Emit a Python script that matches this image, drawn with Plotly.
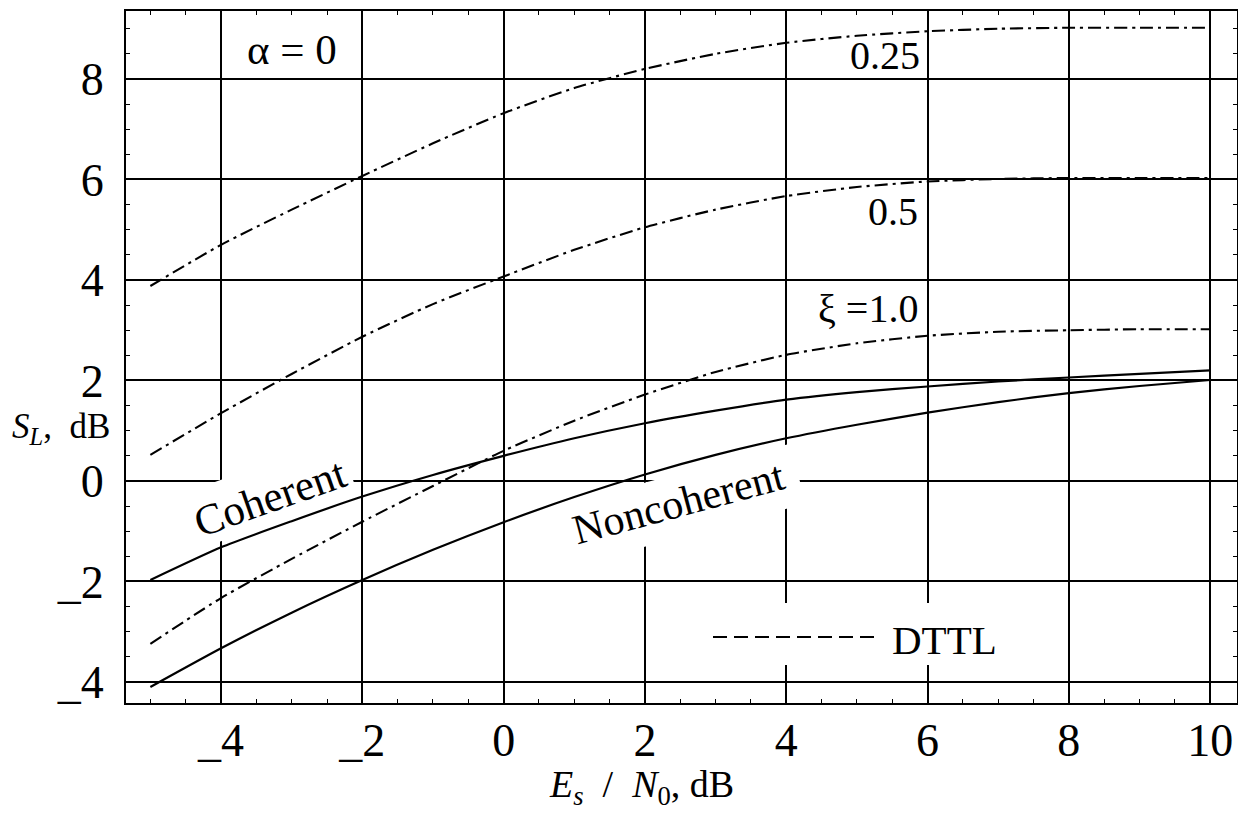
import math
import plotly.graph_objects as go

# ---------------- data ----------------
es_n0 = [-5, -4, -3, -2, -1, 0, 1, 2, 3, 4, 5, 6, 7, 8, 9, 10]
dttl_xi_025 = [3.88, 4.70, 5.40, 6.07, 6.72, 7.32, 7.82, 8.20, 8.50, 8.72, 8.86, 8.95, 9.00, 9.02, 9.02, 9.02]
dttl_xi_05 = [0.52, 1.35, 2.13, 2.87, 3.52, 4.07, 4.60, 5.05, 5.40, 5.67, 5.85, 5.96, 6.01, 6.03, 6.03, 6.03]
dttl_xi_10 = [-3.24, -2.33, -1.55, -0.81, -0.10, 0.60, 1.20, 1.72, 2.17, 2.51, 2.74, 2.89, 2.97, 3.00, 3.02, 3.02]
coherent = [-1.97, -1.32, -0.80, -0.31, 0.12, 0.50, 0.85, 1.15, 1.40, 1.62, 1.77, 1.88, 1.98, 2.06, 2.13, 2.20]
noncoherent = [-4.10, -3.33, -2.62, -1.97, -1.37, -0.82, -0.32, 0.13, 0.52, 0.85, 1.12, 1.36, 1.57, 1.75, 1.89, 2.01]

x_tickvals = [-4, -2, 0, 2, 4, 6, 8, 10]
x_ticktext = ["_4", "_2", "0", "2", "4", "6", "8", "10"]
y_tickvals = [-4, -2, 0, 2, 4, 6, 8]
y_ticktext = ["_4", "_2", "0", "2", "4", "6", "8"]

# ---------------- layout geometry ----------------
BODY = 8                      # default page margin around the plot div
W, H = 1246 - 2 * BODY, 820 - 2 * BODY
ML, MT = 126, 11              # plot-area left/top in page pixels
PW, PH = 1111, 692            # plot-area size
XR = [-5.345, 10.38]
YR = [-4.418, 9.353]

FONT = "Liberation Serif, Times New Roman, serif"
DASHDOT = "13px,5px,3px,5px"


def px2x(px):
    return XR[0] + (px - ML) / PW * (XR[1] - XR[0])


def py2y(py):
    return YR[1] - (py - MT) / PH * (YR[1] - YR[0])


def rot_rect_path(cx, cy, hw, hh, ang_deg):
    t = math.radians(ang_deg)
    u = (math.cos(t), -math.sin(t))
    v = (math.sin(t), math.cos(t))
    pts = []
    for sa, sb in [(-1, -1), (1, -1), (1, 1), (-1, 1)]:
        px = cx + sa * hw * u[0] + sb * hh * v[0]
        py = cy + sa * hw * u[1] + sb * hh * v[1]
        pts.append((px2x(px), py2y(py)))
    return "M " + " L ".join(f"{a:.4f},{b:.4f}" for a, b in pts) + " Z"


fig = go.Figure()

line_solid = dict(color="black", width=2.2, shape="spline", smoothing=0.6)
line_dd = dict(color="black", width=2.1, dash=DASHDOT, shape="spline", smoothing=0.6)

fig.add_trace(go.Scatter(x=es_n0, y=dttl_xi_025, mode="lines", line=line_dd, name="ξ=0.25"))
fig.add_trace(go.Scatter(x=es_n0, y=dttl_xi_05, mode="lines", line=line_dd, name="ξ=0.5"))
fig.add_trace(go.Scatter(x=es_n0, y=dttl_xi_10, mode="lines", line=line_dd, name="ξ=1.0"))
fig.add_trace(go.Scatter(x=es_n0, y=coherent, mode="lines", line=line_solid, name="Coherent"))
fig.add_trace(go.Scatter(x=es_n0, y=noncoherent, mode="lines", line=line_solid, name="Noncoherent"))

shapes = [
    # white masks hiding gridlines behind labels
    dict(type="path", path=rot_rect_path(265, 495, 88, 29, 19.4), xref="x", yref="y",
         fillcolor="white", line=dict(width=0), layer="between"),
    dict(type="path", path=rot_rect_path(679, 505.5, 123, 31, 15), xref="x", yref="y",
         fillcolor="white", line=dict(width=0), layer="between"),
    dict(type="rect", x0=px2x(700), x1=px2x(1012), y0=py2y(665), y1=py2y(603), xref="x", yref="y",
         fillcolor="white", line=dict(width=0), layer="between"),
    # DTTL legend sample
    dict(type="line", x0=px2x(713), x1=px2x(876), y0=py2y(637), y1=py2y(637), xref="x", yref="y",
         line=dict(color="black", width=2, dash="14px,7px"), layer="above"),
]

ann_font = dict(family=FONT, size=40, color="black")
annotations = [
    dict(x=px2x(292), y=py2y(49), text="α = 0", showarrow=False, font=dict(family=FONT, size=43, color="black")),
    dict(x=px2x(922), y=py2y(55), text="0.25", showarrow=False, xanchor="right", font=ann_font),
    dict(x=px2x(920), y=py2y(211), text="0.5", showarrow=False, xanchor="right", font=ann_font),
    dict(x=px2x(920), y=py2y(308), text="ξ =1.0", showarrow=False, xanchor="right", font=ann_font),
    dict(x=px2x(270), y=py2y(497), text="Coherent", showarrow=False, textangle=-19.4,
         font=dict(family=FONT, size=43, color="black")),
    dict(x=px2x(678), y=py2y(503), text="Noncoherent", showarrow=False, textangle=-15,
         font=dict(family=FONT, size=42, color="black")),
    dict(x=px2x(890), y=py2y(640), text="DTTL", showarrow=False, xanchor="left",
         font=dict(family=FONT, size=41, color="black")),
    # axis titles
    dict(x=(10 - ML) / PW, xref="paper", y=py2y(428), yref="y", xanchor="left",
         text="<i>S</i><sub><i>L</i></sub>,  dB", showarrow=False,
         font=dict(family=FONT, size=35, color="black")),
    dict(x=px2x(641), xref="x", y=(MT + PH - 787) / PH, yref="paper", yanchor="middle",
         text="<i>E</i><sub><i>s</i></sub>  /  <i>N</i><sub>0</sub>, dB", showarrow=False,
         font=dict(family=FONT, size=38, color="black")),
]

axis_common = dict(
    showline=True, linecolor="black", linewidth=2, mirror="ticks",
    ticks="inside", ticklen=6, tickwidth=1.5, tickcolor="black",
    showgrid=True, gridcolor="black", gridwidth=1.5, zeroline=False,
    tickfont=dict(family=FONT, size=46, color="black"),
    minor=dict(dtick=0.5, tick0=0, ticks="inside", ticklen=4, tickwidth=1.2,
               tickcolor="black", showgrid=False),
)

fig.update_layout(
    width=W, height=H,
    margin=dict(l=ML - BODY, r=W - (ML - BODY) - PW, t=MT - BODY, b=H - (MT - BODY) - PH, autoexpand=False),
    paper_bgcolor="white", plot_bgcolor="white",
    showlegend=False,
    shapes=shapes,
    annotations=annotations,
    xaxis=dict(range=XR, tickvals=x_tickvals, ticktext=x_ticktext, ticklabelstandoff=-4, **axis_common),
    yaxis=dict(range=YR, tickvals=y_tickvals, ticktext=y_ticktext, ticklabelstandoff=11, **axis_common),
)

fig.write_html("out.html")
